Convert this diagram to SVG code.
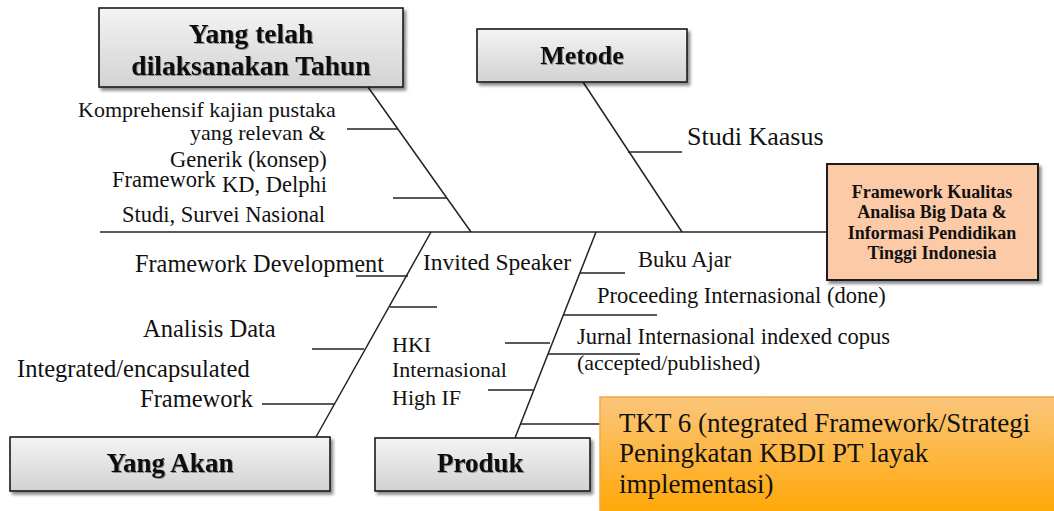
<svg xmlns="http://www.w3.org/2000/svg" width="1054" height="511" viewBox="0 0 1054 511">
<defs>
  <linearGradient id="gray" x1="0" y1="0" x2="0" y2="1">
    <stop offset="0" stop-color="#f4f4f4"/>
    <stop offset="1" stop-color="#d2d2d2"/>
  </linearGradient>
  <linearGradient id="orange" x1="0" y1="0" x2="0" y2="1">
    <stop offset="0" stop-color="#fbc67c"/>
    <stop offset="1" stop-color="#ffa602"/>
  </linearGradient>
  <filter id="shadow" x="-5%" y="-10%" width="115%" height="130%">
    <feDropShadow dx="2.5" dy="3" stdDeviation="1.5" flood-color="#000" flood-opacity="0.45"/>
  </filter>
  <filter id="tshadow" x="-5%" y="-10%" width="110%" height="130%">
    <feDropShadow dx="1" dy="1" stdDeviation="0.6" flood-color="#000" flood-opacity="0.35"/>
  </filter>
</defs>
<style>
  .box { fill: url(#gray); stroke: #1a1a1a; stroke-width: 1.6; }
  .head { font-family: "Liberation Serif", "Times New Roman", serif; font-weight: bold; fill: #111; }
  .lbl { font-family: "Liberation Serif", "Times New Roman", serif; fill: #111; }
  .ln { stroke: #222; stroke-width: 1.5; fill: none; }
</style>
<rect width="1054" height="511" fill="#ffffff"/>

<g id="connectors">
  <line class="ln" x1="100" y1="232" x2="827" y2="232"/>
  <line class="ln" x1="368" y1="87" x2="471" y2="232"/>
  <line class="ln" x1="347" y1="129" x2="398" y2="129"/>
  <line class="ln" x1="393" y1="198" x2="447" y2="198"/>
  <line class="ln" x1="583" y1="82" x2="682" y2="232"/>
  <line class="ln" x1="628" y1="152" x2="682" y2="152"/>
  <line class="ln" x1="431" y1="232" x2="316" y2="437"/>
  <line class="ln" x1="356" y1="276" x2="408" y2="276"/>
  <line class="ln" x1="390" y1="307" x2="437" y2="307"/>
  <line class="ln" x1="312" y1="349" x2="364" y2="349"/>
  <line class="ln" x1="262" y1="404" x2="334" y2="404"/>
  <line class="ln" x1="596" y1="232" x2="515" y2="438"/>
  <line class="ln" x1="580" y1="273" x2="625" y2="273"/>
  <line class="ln" x1="563" y1="315" x2="657" y2="315"/>
  <line class="ln" x1="505" y1="343" x2="550" y2="343"/>
  <line class="ln" x1="548" y1="354" x2="640" y2="354"/>
  <line class="ln" x1="488" y1="390" x2="533" y2="390"/>
  <line class="ln" x1="520" y1="424" x2="602" y2="424"/>
</g>

<g id="node-yang-telah">
  <rect class="box" x="99" y="8" width="304" height="79" filter="url(#shadow)"/>
  <text class="head" font-size="27.5" text-anchor="middle" filter="url(#tshadow)"><tspan x="251" y="43">Yang telah</tspan><tspan x="251" y="75">dilaksanakan Tahun</tspan></text>
</g>

<g id="node-metode">
  <rect class="box" x="477" y="29" width="210" height="53" filter="url(#shadow)"/>
  <text class="head" font-size="26" text-anchor="middle" x="582" y="64" filter="url(#tshadow)">Metode</text>
</g>

<g id="node-framework">
  <rect x="827" y="164" width="211" height="116" fill="#fccaa6" stroke="#1a1a1a" stroke-width="2" filter="url(#shadow)"/>
  <text class="head" font-size="18" text-anchor="middle"><tspan x="932" y="198">Framework Kualitas</tspan><tspan x="932" y="218">Analisa Big Data &amp;</tspan><tspan x="932" y="239">Informasi Pendidikan</tspan><tspan x="932" y="259">Tinggi Indonesia</tspan></text>
</g>

<g id="node-yang-akan">
  <rect class="box" x="10" y="437" width="320" height="54" filter="url(#shadow)"/>
  <text class="head" font-size="27" text-anchor="middle" x="170" y="472" filter="url(#tshadow)">Yang Akan</text>
</g>

<g id="node-produk">
  <rect class="box" x="375" y="438" width="215" height="53" filter="url(#shadow)"/>
  <text class="head" font-size="27" x="437" y="472" filter="url(#tshadow)">Produk</text>
</g>

<g id="node-tkt">
  <rect x="600" y="397" width="460" height="120" fill="url(#orange)" stroke="#f6a848" stroke-width="1.5"/>
  <text class="lbl" font-size="27"><tspan x="619" y="432">TKT 6 (ntegrated Framework/Strategi</tspan><tspan x="619" y="462">Peningkatan KBDI PT layak</tspan><tspan x="619" y="493">implementasi)</tspan></text>
</g>

<g id="labels-yang-telah">
  <text class="lbl" font-size="22" x="78" y="117">Komprehensif kajian pustaka</text>
  <text class="lbl" font-size="22" x="190" y="140">yang relevan &amp;</text>
  <text class="lbl" font-size="22.5" x="170" y="167">Generik (konsep)</text>
  <text class="lbl" font-size="22.5"><tspan x="112" y="187">Framework</tspan><tspan x="222" y="192">KD, Delphi</tspan></text>
  <text class="lbl" font-size="22.5" x="122" y="222">Studi, Survei Nasional</text>
</g>

<g id="labels-metode">
  <text class="lbl" font-size="26" x="687" y="145">Studi Kaasus</text>
</g>

<g id="labels-yang-akan">
  <text class="lbl" font-size="24.3" x="135" y="272">Framework Development</text>
  <text class="lbl" font-size="24.5" x="143" y="337">Analisis Data</text>
  <text class="lbl" font-size="24.5" x="17" y="377">Integrated/encapsulated</text>
  <text class="lbl" font-size="24.5" x="140" y="407">Framework</text>
</g>

<g id="labels-produk">
  <text class="lbl" font-size="23.5" x="423" y="270">Invited Speaker</text>
  <text class="lbl" font-size="22" x="392" y="352">HKI</text>
  <text class="lbl" font-size="22" x="392" y="377">Internasional</text>
  <text class="lbl" font-size="22" x="392" y="405">High IF</text>
  <text class="lbl" font-size="22.5" x="638" y="267">Buku Ajar</text>
  <text class="lbl" font-size="22.5" x="597" y="303">Proceeding Internasional (done)</text>
  <text class="lbl" font-size="22.5" x="577" y="344">Jurnal Internasional indexed copus</text>
  <text class="lbl" font-size="22" x="577" y="370">(accepted/published)</text>
</g>
</svg>
